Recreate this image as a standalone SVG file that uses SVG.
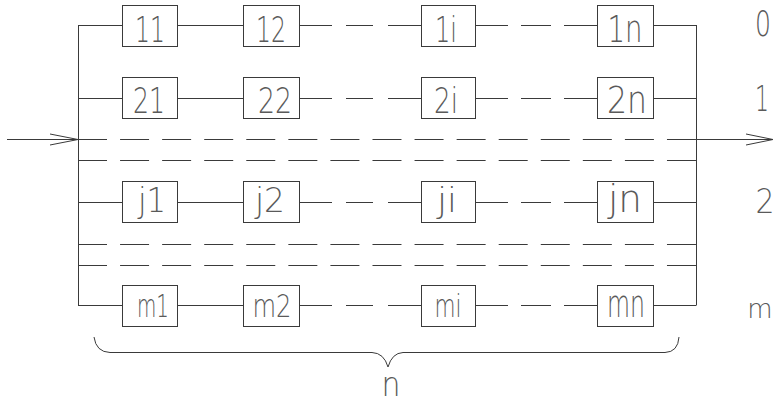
<svg xmlns="http://www.w3.org/2000/svg" width="777" height="403" viewBox="0 0 777 403">
<style>
.box{fill:#fff;stroke:#3a3a3a;stroke-width:1}
.ln{stroke:#3a3a3a;stroke-width:1;fill:none}
.dash{stroke-dasharray:29 13.07}
.lbl{font-family:"DejaVu Sans","Liberation Sans",sans-serif;font-weight:200;fill:#5a5a5a;text-anchor:middle}
</style>
<rect width="777" height="403" fill="#fff"/>
<g id="connectors">
<path class="ln" d="M78.5,25 V305.5 M696.5,25 V305.5"/>
<path class="ln" d="M78,25.5 H122 M177,25.5 H243 M299,25.5 H332 M346,25.5 H373 M388,25.5 H421 M475,25.5 H508 M521,25.5 H551 M564,25.5 H597 M653,25.5 H696"/>
<path class="ln" d="M78,98.5 H122 M177,98.5 H243 M299,98.5 H332 M346,98.5 H373 M388,98.5 H421 M475,98.5 H508 M521,98.5 H551 M564,98.5 H597 M653,98.5 H696"/>
<path class="ln" d="M78,202.5 H122 M177,202.5 H243 M299,202.5 H332 M346,202.5 H373 M388,202.5 H421 M475,202.5 H508 M521,202.5 H551 M564,202.5 H597 M653,202.5 H696"/>
<path class="ln" d="M78,305.5 H122 M177,305.5 H243 M299,305.5 H332 M346,305.5 H373 M388,305.5 H421 M475,305.5 H508 M521,305.5 H551 M564,305.5 H597 M653,305.5 H696"/>
<path class="ln dash" d="M78,139.5 H696 M78,160.5 H696 M78,244.5 H696 M78,265.5 H696"/>
<path class="ln" d="M7,139.5 H78 M50,134 L78,139.5 L50,145"/>
<path class="ln" d="M696,139.5 H773 M746,134 L773,139.5 L746,145"/>
<path class="ln" d="M94,337 Q96,352 110,352.5 L372,352.5 Q384,353 388,367 Q392,353 403,352.5 L665,352.5 Q678,352 679,337"/>
</g>
<g id="n11"><rect class="box" x="122.5" y="5.5" width="55" height="41"/><text class="lbl" x="150" y="42" font-size="36" textLength="30" lengthAdjust="spacingAndGlyphs">11</text></g>
<g id="n12"><rect class="box" x="243.5" y="5.5" width="56" height="41"/><text class="lbl" x="271" y="42" font-size="36" textLength="30" lengthAdjust="spacingAndGlyphs">12</text></g>
<g id="n1i"><rect class="box" x="421.5" y="5.5" width="54" height="41"/><text class="lbl" x="446" y="42" font-size="36" textLength="22" lengthAdjust="spacingAndGlyphs">1i</text></g>
<g id="n1n"><rect class="box" x="597.5" y="5.5" width="56" height="41"/><text class="lbl" x="625" y="42" font-size="38" textLength="35" lengthAdjust="spacingAndGlyphs">1n</text></g>
<g id="n21"><rect class="box" x="122.5" y="77.5" width="55" height="41"/><text class="lbl" x="149" y="113" font-size="36" textLength="32" lengthAdjust="spacingAndGlyphs">21</text></g>
<g id="n22"><rect class="box" x="243.5" y="77.5" width="56" height="41"/><text class="lbl" x="275" y="113" font-size="36" textLength="34" lengthAdjust="spacingAndGlyphs">22</text></g>
<g id="n2i"><rect class="box" x="421.5" y="77.5" width="54" height="41"/><text class="lbl" x="446" y="113" font-size="36" textLength="24" lengthAdjust="spacingAndGlyphs">2i</text></g>
<g id="n2n"><rect class="box" x="597.5" y="77.5" width="56" height="41"/><text class="lbl" x="627" y="113" font-size="38" textLength="40" lengthAdjust="spacingAndGlyphs">2n</text></g>
<g id="nj1"><rect class="box" x="122.5" y="181.5" width="55" height="41"/><text class="lbl" x="152" y="212" font-size="34" textLength="28" lengthAdjust="spacingAndGlyphs">j1</text></g>
<g id="nj2"><rect class="box" x="243.5" y="181.5" width="56" height="41"/><text class="lbl" x="270" y="212" font-size="34" textLength="30" lengthAdjust="spacingAndGlyphs">j2</text></g>
<g id="nji"><rect class="box" x="421.5" y="181.5" width="54" height="41"/><text class="lbl" x="447" y="212" font-size="34" textLength="20" lengthAdjust="spacingAndGlyphs">ji</text></g>
<g id="njn"><rect class="box" x="597.5" y="181.5" width="56" height="41"/><text class="lbl" x="625" y="212" font-size="37" textLength="34" lengthAdjust="spacingAndGlyphs">jn</text></g>
<g id="nm1"><rect class="box" x="122.5" y="285.5" width="55" height="41"/><text class="lbl" x="153" y="317" font-size="32" textLength="32" lengthAdjust="spacingAndGlyphs">m1</text></g>
<g id="nm2"><rect class="box" x="243.5" y="285.5" width="56" height="41"/><text class="lbl" x="272" y="317" font-size="32" textLength="39" lengthAdjust="spacingAndGlyphs">m2</text></g>
<g id="nmi"><rect class="box" x="421.5" y="285.5" width="54" height="41"/><text class="lbl" x="448" y="317" font-size="32" textLength="27" lengthAdjust="spacingAndGlyphs">mi</text></g>
<g id="nmn"><rect class="box" x="597.5" y="285.5" width="56" height="41"/><text class="lbl" x="626" y="317" font-size="37" textLength="38" lengthAdjust="spacingAndGlyphs">mn</text></g>
<g id="labels">
<text class="lbl" x="763" y="36" font-size="35" textLength="16" lengthAdjust="spacingAndGlyphs">0</text>
<text class="lbl" x="762" y="111" font-size="35" textLength="14" lengthAdjust="spacingAndGlyphs">1</text>
<text class="lbl" x="765" y="213" font-size="34" textLength="19" lengthAdjust="spacingAndGlyphs">2</text>
<text class="lbl" x="760" y="318" font-size="26">m</text>
<text class="lbl" x="391" y="396" font-size="33" textLength="19" lengthAdjust="spacingAndGlyphs">n</text>
</g>
</svg>
